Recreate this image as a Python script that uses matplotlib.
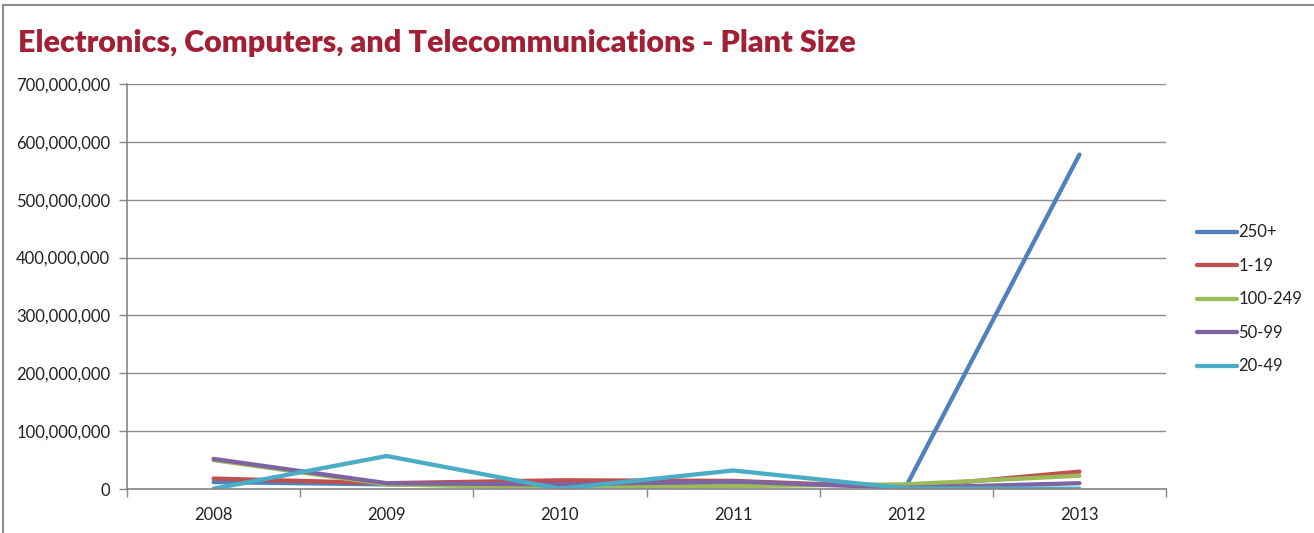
import matplotlib.pyplot as plt
from matplotlib.ticker import FuncFormatter, FixedLocator

plt.rcParams['font.family'] = ['Lato', 'DejaVu Sans']

years = ['2008', '2009', '2010', '2011', '2012', '2013']
series_names = ['250+', '1-19', '100-249', '50-99', '20-49']
s_250 = [12e6, 8e6, 9e6, 10e6, 5e6, 578e6]
s_1_19 = [18e6, 10e6, 15e6, 14e6, 3e6, 30e6]
s_100_249 = [50e6, 8e6, 2e6, 5e6, 8e6, 23e6]
s_50_99 = [52e6, 10e6, 8e6, 13e6, 2e6, 10e6]
s_20_49 = [0.5e6, 57e6, 0.5e6, 32e6, 1e6, 0.5e6]

colors = ['#4F81BD', '#C0504D', '#9BBB59', '#8064A2', '#4BACC6']
all_series = [s_250, s_1_19, s_100_249, s_50_99, s_20_49]

fig = plt.figure(figsize=(13.14, 5.33), dpi=100)
ax = fig.add_axes([127/1314, 44/533, (1166-127)/1314, (489-84)/533])

x = list(range(len(years)))
for name, vals, c in zip(series_names, all_series, colors):
    ax.plot(x, vals, color=c, lw=3.1, label=name, solid_capstyle='round', solid_joinstyle='round')

ax.set_ylim(0, 700e6)
ax.set_xlim(-0.5, 5.5)
ax.set_yticks([i * 100e6 for i in range(8)])
ax.yaxis.set_major_formatter(FuncFormatter(lambda v, p: f'{int(v):,}'))
ax.grid(axis='y', color='#8C8C8C', lw=1)
ax.set_axisbelow(True)

ax.set_xticks(x)
ax.set_xticklabels(years)
ax.xaxis.set_minor_locator(FixedLocator([i - 0.5 for i in range(7)]))
ax.tick_params(axis='x', which='major', length=0, pad=13, labelsize=12, colors='#222222')
ax.tick_params(axis='x', which='minor', length=6, width=1, color='#868686', direction='out')
ax.tick_params(axis='y', length=6, width=1, color='#868686', labelsize=12, pad=6, labelcolor='#222222')

for s in ['top', 'right']:
    ax.spines[s].set_visible(False)
for s in ['left', 'bottom']:
    ax.spines[s].set_color('#868686')
    ax.spines[s].set_linewidth(1.2)

leg = ax.legend(loc='center left', bbox_to_anchor=(1.015, 0.468), frameon=False, fontsize=12,
                handlelength=2.4, handletextpad=0.1, labelspacing=1.05)
for t in leg.get_texts():
    t.set_color('#222222')

fig.text(18/1314, 1 - 52/533, 'Electronics, Computers, and Telecommunications - Plant Size',
         fontsize=22, fontweight='heavy', color='#A31F34', va='baseline', ha='left')

# outer border (left and top)
fig.add_artist(plt.Line2D([3/1314, 3/1314], [0, 1 - 5/533], color='#8C8C8C', lw=1.5))
fig.add_artist(plt.Line2D([3/1314, 1], [1 - 5/533, 1 - 5/533], color='#8C8C8C', lw=1.5))

fig.savefig('out.png', dpi=100)
